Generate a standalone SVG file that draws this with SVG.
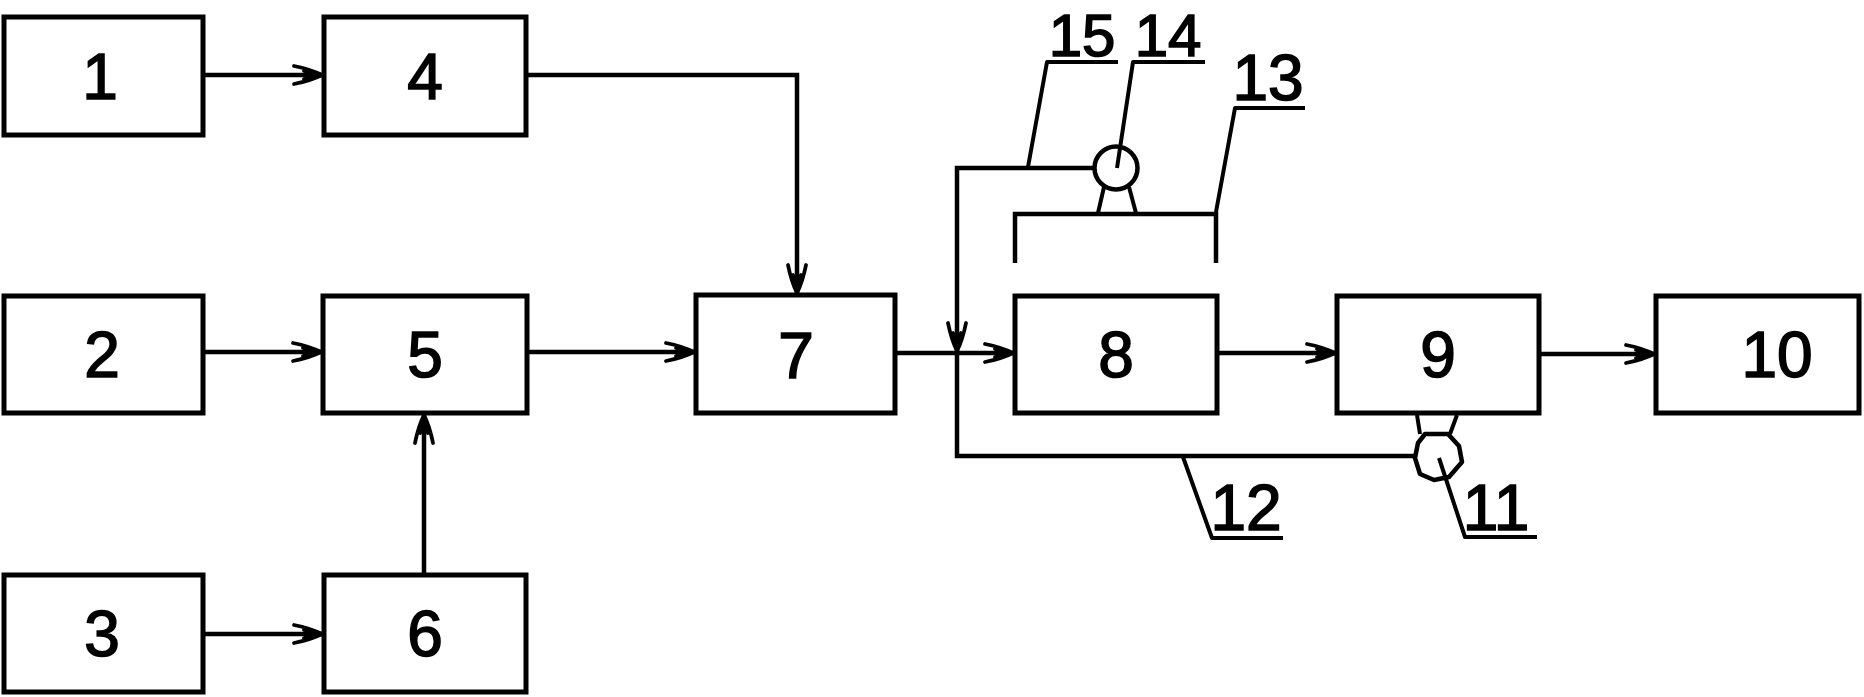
<svg xmlns="http://www.w3.org/2000/svg" width="1864" height="697" viewBox="0 0 1864 697">
<style>
.box{fill:#fff;stroke:#000;stroke-width:5}
.ln{fill:none;stroke:#000;stroke-width:4.5}
.ld{fill:none;stroke:#000;stroke-width:4;stroke-linejoin:round}
.t{font-family:"Liberation Sans",Arial,sans-serif;font-size:64px;fill:#000;stroke:#000;stroke-width:1.6;text-anchor:middle}
.s{font-size:60px}
</style>
<defs>
<marker id="ah" markerUnits="userSpaceOnUse" markerWidth="40" markerHeight="30" viewBox="-32 -15 36 30" refX="0" refY="0" orient="auto" overflow="visible">
<path d="M-28,-9 C-18,-7 -8,-4 0,0 M-28,9 C-18,7 -8,4 0,0 M-18,-4 L0,0 M-18,4 L0,0" fill="none" stroke="#000" stroke-width="3.8" stroke-linecap="round"/>
</marker>
</defs>
<rect width="1864" height="697" fill="#fff"/>
<g id="connectors">
<path class="ln" d="M203,75 H322" marker-end="url(#ah)"/>
<path class="ln" d="M203,352 H321" marker-end="url(#ah)"/>
<path class="ln" d="M203,634 H322" marker-end="url(#ah)"/>
<path class="ln" d="M424,575 V415" marker-end="url(#ah)"/>
<path class="ln" d="M527,352 H694" marker-end="url(#ah)"/>
<path class="ln" d="M526,75 H797 V293" marker-end="url(#ah)"/>
<path class="ln" d="M895,353 H1013" marker-end="url(#ah)"/>
<path class="ln" d="M1217,353 H1335" marker-end="url(#ah)"/>
<path class="ln" d="M1539,354 H1654" marker-end="url(#ah)"/>
<path class="ln" d="M1094,168 H957 V351" marker-end="url(#ah)"/>
<path class="ln" d="M957,351 V456 H1416"/>
</g>
<g id="node1"><rect class="box" x="4" y="17" width="199" height="118"/><text class="t" x="100" y="99">1</text></g>
<g id="node4"><rect class="box" x="324" y="17" width="202" height="118"/><text class="t" x="425" y="99">4</text></g>
<g id="node2"><rect class="box" x="4" y="296" width="199" height="117"/><text class="t" x="102" y="377">2</text></g>
<g id="node5"><rect class="box" x="323" y="296" width="204" height="117"/><text class="t" x="425" y="377">5</text></g>
<g id="node3"><rect class="box" x="4" y="575" width="199" height="117"/><text class="t" x="102" y="656">3</text></g>
<g id="node6"><rect class="box" x="324" y="575" width="202" height="117"/><text class="t" x="425" y="656">6</text></g>
<g id="node7"><rect class="box" x="696" y="295" width="199" height="118"/><text class="t" x="796" y="378">7</text></g>
<g id="node8"><rect class="box" x="1015" y="296" width="202" height="117"/><text class="t" x="1116" y="377">8</text></g>
<g id="node9"><rect class="box" x="1337" y="296" width="202" height="117"/><text class="t" x="1438" y="377">9</text></g>
<g id="node10"><rect class="box" x="1656" y="296" width="203" height="117"/><text class="t" x="1777" y="377">10</text></g>
<g id="node13">
<path class="ln" d="M1015,263 V214 H1216 V263"/>
<path class="ld" d="M1216,212 L1235,108 H1305"/>
<text class="t" x="1268" y="100">13</text>
</g>
<g id="node14">
<circle cx="1116" cy="168" r="21.5" fill="#fff" stroke="#000" stroke-width="4.5"/>
<path class="ld" d="M1104,187 L1098,213 M1129,187 L1136,213"/>
<path class="ld" d="M1117,168 L1133,62 H1205"/>
<text class="t s" x="1168" y="56">14</text>
</g>
<g id="node15">
<path class="ld" d="M1028,167 L1047,62 H1118"/>
<text class="t s" x="1082" y="56">15</text>
</g>
<g id="node11">
<polygon points="1425,434 1448,434 1459,446 1462,462 1449,477 1434,480 1420,474 1415,458 1418,443" fill="#fff" stroke="#000" stroke-width="4.5" stroke-linejoin="round"/>
<path class="ld" d="M1420,434 L1417,415 M1450,434 L1457,415"/>
<path class="ld" d="M1439,458 L1465,537 H1537"/>
<text class="t" x="1496" y="530">11</text>
</g>
<g id="node12">
<path class="ld" d="M1183,457 L1212,538 H1283"/>
<text class="t" x="1246" y="530">12</text>
</g>
</svg>
